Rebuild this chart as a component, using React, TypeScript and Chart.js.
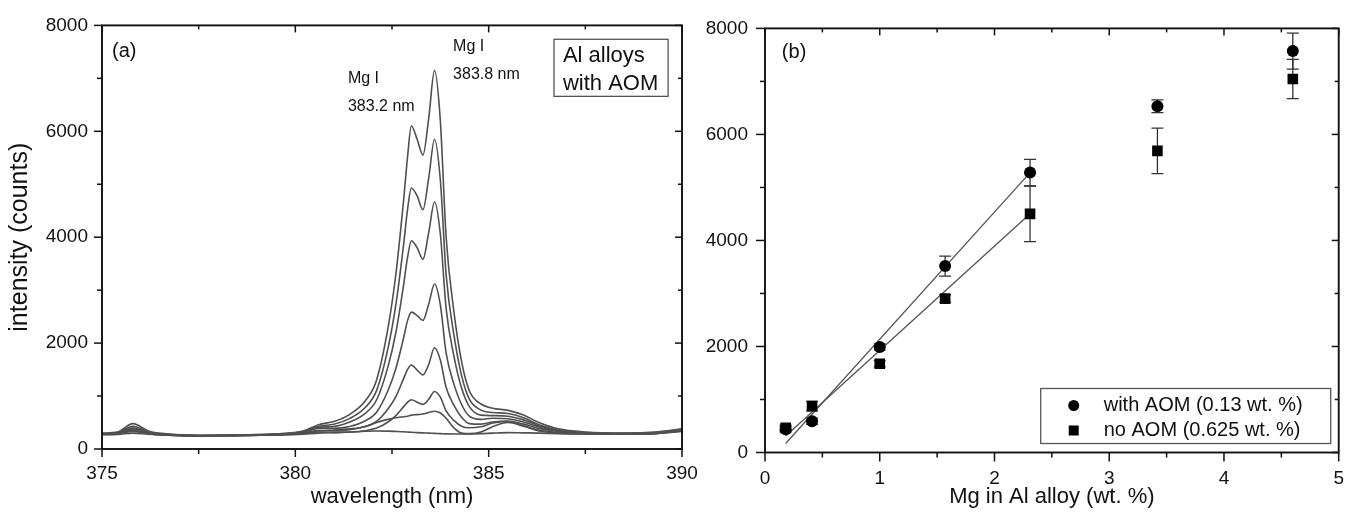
import React, { useEffect, useRef } from "react";
import { Chart, registerables } from "chart.js";

Chart.register(...registerables);

const FONT = "'Liberation Sans', Arial, Helvetica, sans-serif";
const INK = "#111111";
const LINE = "#505050";

// ---------------- panel (a): emission spectra ----------------
const wavelengths = [
  375.0, 375.4, 375.8, 376.2, 376.8, 377.5, 378.5, 379.5, 380.2, 380.6,
  381.0, 381.4, 381.8, 382.1, 382.4, 382.6, 382.8, 382.9, 383.0, 383.15,
  383.3, 383.45, 383.6, 383.75, 383.9, 384.1, 384.3, 384.5, 384.8, 385.1,
  385.5, 385.9, 386.3, 386.8, 387.5, 388.5, 389.3, 390.0,
];
const spectrum1 = [
  300, 320, 480, 340, 280, 260, 265, 285, 340, 460,
  520, 650, 900, 1300, 2300, 3300, 4700, 5500, 6100, 5850,
  5550, 6250, 7150, 6200, 4000, 2600, 1650, 1100, 850, 770,
  730, 640, 500, 380, 320, 300, 320, 380,
];
const spectrum2 = [
  290, 310, 430, 320, 275, 255, 262, 280, 330, 430,
  468, 574, 779, 1102, 1914, 2725, 3860, 4510, 4930, 4780,
  4520, 5120, 5850, 5080, 3290, 2160, 1385, 940, 735, 690,
  670, 590, 460, 360, 310, 295, 310, 370,
];
const spectrum3 = [
  285, 300, 400, 310, 270, 255, 260, 278, 320, 410,
  425, 508, 670, 925, 1565, 2200, 3100, 3610, 3934, 3800,
  3584, 4090, 4665, 4060, 2650, 1760, 1150, 800, 640, 630,
  620, 550, 440, 350, 305, 290, 305, 360,
];
const spectrum4 = [
  280, 295, 380, 300, 265, 250, 258, 275, 310, 390,
  390, 425, 530, 695, 1110, 1520, 2100, 2420, 2585, 2520,
  2430, 2740, 3116, 2720, 1810, 1230, 840, 620, 560, 580,
  570, 510, 420, 340, 300, 288, 300, 355,
];
const spectrum5 = [
  280, 290, 360, 295, 262, 250, 255, 272, 300, 350,
  340, 365, 425, 520, 760, 990, 1330, 1500, 1587, 1490,
  1400, 1600, 1911, 1680, 1160, 830, 600, 480, 470, 510,
  530, 470, 390, 330, 295, 285, 298, 350,
];
const spectrum6 = [
  275, 285, 340, 290, 260, 248, 252, 268, 290, 320,
  310, 320, 345, 395, 510, 630, 800, 880, 931, 885,
  843, 940, 1087, 980, 720, 540, 430, 400, 420, 490,
  520, 440, 360, 310, 290, 280, 295, 345,
];
const spectrum7 = [
  280, 290, 330, 290, 262, 250, 255, 270, 300, 340,
  360, 380, 420, 500, 560, 590, 610, 620, 640, 650,
  660, 690, 712, 680, 580, 400, 300, 290, 320, 420,
  500, 430, 340, 300, 285, 278, 290, 340,
];
const spectrum8 = [
  270, 275, 300, 280, 258, 250, 255, 265, 280, 300,
  310, 320, 335, 340, 338, 332, 325, 320, 315, 310,
  305, 300, 295, 290, 285, 282, 282, 285, 290, 300,
  310, 305, 300, 290, 285, 280, 290, 330,
];
const spectra = [spectrum1, spectrum2, spectrum3, spectrum4, spectrum5, spectrum6, spectrum7, spectrum8];

// ---------------- panel (b): calibration ----------------
const mgContent = [0.18, 0.41, 1.0, 1.57, 2.31, 3.42, 4.6];
const withAOM = [440, 590, 1990, 3516, 5280, 6530, 7572];
const withAOMErr = [50, 60, 60, 190, 250, 120, 340];
const noAOM = [465, 874, 1674, 2902, 4502, 5690, 7046];
const noAOMErr = [50, 90, 60, 70, 525, 430, 370];
const fitRange = [0.18, 2.31];
const fitWithAOM = [170, 5280];
const fitNoAOM = [310, 4502];

const seriesLabels = ["with AOM (0.13 wt. %)", "no AOM (0.625 wt. %)"];

// ---------------- plugins ----------------
const framePlugin = {
  id: "frame",
  afterDatasetsDraw(chart: any, _a: any, opts: any) {
    const { ctx, chartArea: a } = chart;
    const xs = chart.scales.x;
    const ys = chart.scales.y;
    ctx.save();
    ctx.strokeStyle = INK;
    ctx.lineWidth = 1.5;
    const seg = (x1: number, y1: number, x2: number, y2: number) => {
      ctx.beginPath();
      ctx.moveTo(x1, y1);
      ctx.lineTo(x2, y2);
      ctx.stroke();
    };
    const marks = (scale: any, step: number, every: number, cb: (p: number, major: boolean) => void) => {
      const n = Math.round((scale.max - scale.min) / step);
      for (let i = 0; i <= n; i++) cb(scale.getPixelForValue(scale.min + i * step), i % every === 0);
    };
    const out = opts.outMajor, outMin = opts.outMinor, inn = opts.inMajor, innMin = opts.inMinor;
    marks(xs, opts.xMinor, opts.xEvery, (p, major) => {
      seg(p, a.bottom, p, a.bottom + (major ? out : outMin));
      seg(p, a.top, p, a.top + (major ? inn : innMin));
    });
    marks(ys, opts.yMinor, opts.yEvery, (p, major) => {
      seg(a.left, p, a.left - (major ? out : outMin), p);
      seg(a.right, p, a.right - (major ? inn : innMin), p);
    });
    ctx.lineWidth = 1.9;
    ctx.strokeRect(a.left, a.top, a.right - a.left, a.bottom - a.top);
    ctx.restore();
  },
};

const notesPlugin = {
  id: "notes",
  afterDraw(chart: any, _a: any, opts: any) {
    const { ctx } = chart;
    const xs = chart.scales.x;
    const ys = chart.scales.y;
    ctx.save();
    ctx.fillStyle = INK;
    ctx.textAlign = "left";
    ctx.textBaseline = "middle";
    for (const t of opts.texts || []) {
      ctx.font = `${t.size}px ${FONT}`;
      ctx.fillText(t.text, xs.getPixelForValue(t.x), ys.getPixelForValue(t.y));
    }
    if (opts.box) {
      const b = opts.box;
      const x1 = xs.getPixelForValue(b.x1), x2 = xs.getPixelForValue(b.x2);
      const y1 = ys.getPixelForValue(b.y1), y2 = ys.getPixelForValue(b.y2);
      ctx.fillStyle = "#fff";
      ctx.fillRect(x1, y1, x2 - x1, y2 - y1);
      ctx.strokeStyle = "#555";
      ctx.lineWidth = 1.3;
      ctx.strokeRect(x1, y1, x2 - x1, y2 - y1);
      ctx.fillStyle = INK;
      for (const t of b.lines) {
        ctx.font = `${t.size}px ${FONT}`;
        ctx.fillText(t.text, xs.getPixelForValue(t.x), ys.getPixelForValue(t.y));
      }
    }
    ctx.restore();
  },
};

const errorBarPlugin = {
  id: "errorBars",
  beforeDatasetsDraw(chart: any, _a: any, opts: any) {
    const { ctx } = chart;
    const xs = chart.scales.x;
    const ys = chart.scales.y;
    ctx.save();
    ctx.strokeStyle = "#333";
    ctx.lineWidth = 1.3;
    chart.data.datasets.forEach((ds: any) => {
      if (!ds.errors) return;
      ds.data.forEach((pt: any, i: number) => {
        const e = ds.errors[i];
        const px = xs.getPixelForValue(pt.x);
        const top = ys.getPixelForValue(pt.y + e);
        const bot = ys.getPixelForValue(pt.y - e);
        const c = opts.cap;
        ctx.beginPath();
        ctx.moveTo(px, top); ctx.lineTo(px, bot);
        ctx.moveTo(px - c, top); ctx.lineTo(px + c, top);
        ctx.moveTo(px - c, bot); ctx.lineTo(px + c, bot);
        ctx.stroke();
      });
    });
    ctx.restore();
  },
};

const boxLegendPlugin = {
  id: "boxLegend",
  afterDraw(chart: any, _a: any, opts: any) {
    const { ctx, chartArea: a } = chart;
    const right = a.right - opts.right;
    const bottom = a.bottom - opts.bottom;
    const left = right - opts.width;
    const top = bottom - opts.height;
    ctx.save();
    ctx.fillStyle = "#fff";
    ctx.fillRect(left, top, opts.width, opts.height);
    ctx.strokeStyle = "#555";
    ctx.lineWidth = 1.3;
    ctx.strokeRect(left, top, opts.width, opts.height);
    ctx.font = `${opts.size}px ${FONT}`;
    ctx.textAlign = "left";
    ctx.textBaseline = "middle";
    opts.items.forEach((idx: number, row: number) => {
      const ds = chart.data.datasets[idx];
      const y = top + opts.firstRow + row * opts.rowGap;
      const mx = left + opts.markerX;
      ctx.fillStyle = "#000";
      if (ds.pointStyle === "rect") {
        const s = opts.squareSide;
        ctx.fillRect(mx - s / 2, y - s / 2, s, s);
      } else {
        ctx.beginPath();
        ctx.arc(mx, y, opts.circleR, 0, Math.PI * 2);
        ctx.fill();
      }
      ctx.fillStyle = INK;
      ctx.fillText(ds.label, left + opts.textX, y);
    });
    ctx.restore();
  },
};

const tickFont = { family: FONT, size: 19 };
const numberLabel = (v: any) => String(v);

function makeSpectraConfig(): any {
  return {
    type: "scatter",
    data: {
      datasets: spectra.map((s, k) => ({
        label: `spectrum ${k + 1}`,
        data: wavelengths.map((w, j) => ({ x: w, y: s[j] })),
        showLine: true,
        borderColor: LINE,
        borderWidth: 1.6,
        pointRadius: 0,
        cubicInterpolationMode: "monotone",
        fill: false,
      })),
    },
    options: {
      responsive: false,
      animation: false,
      events: [],
      layout: { padding: { left: 0, top: 21, right: 38, bottom: 0 } },
      plugins: {
        legend: { display: false },
        tooltip: { enabled: false },
        frame: { xMinor: 2.5, xEvery: 2, yMinor: 1000, yEvery: 2, outMajor: 8, outMinor: 5, inMajor: 7, inMinor: 4 },
        notes: {
          texts: [
            { text: "(a)", x: 375.26, y: 7514, size: 20 },
            { text: "Mg I", x: 381.36, y: 6991, size: 16 },
            { text: "383.2 nm", x: 381.36, y: 6467, size: 16 },
            { text: "Mg I", x: 384.08, y: 7594, size: 16 },
            { text: "383.8 nm", x: 384.08, y: 7071, size: 16 },
          ],
          box: {
            x1: 386.69, x2: 389.64, y1: 7738, y2: 6660,
            lines: [
              { text: "Al alloys", x: 386.92, y: 7421, size: 22 },
              { text: "with AOM", x: 386.92, y: 6897, size: 22 },
            ],
          },
        },
      },
      scales: {
        x: {
          type: "linear",
          min: 375,
          max: 390,
          grid: { display: false, drawTicks: false },
          border: { display: false },
          ticks: { stepSize: 5, font: tickFont, color: INK, padding: 13, callback: numberLabel, maxRotation: 0 },
          title: { display: true, text: "wavelength (nm)", font: { family: FONT, size: 22 }, color: INK, padding: { top: 0, bottom: 2 } },
          afterFit: (s: any) => { s.height = 63; },
        },
        y: {
          type: "linear",
          min: 0,
          max: 8000,
          grid: { display: false, drawTicks: false },
          border: { display: false },
          ticks: { stepSize: 2000, font: tickFont, color: INK, padding: 14, callback: numberLabel },
          title: { display: true, text: "intensity (counts)", font: { family: FONT, size: 25 }, color: INK, padding: { top: 5, bottom: 0 } },
          afterFit: (s: any) => { s.width = 102; },
        },
      },
    },
    plugins: [framePlugin, notesPlugin],
  };
}

function makeCalibrationConfig(): any {
  return {
    type: "scatter",
    data: {
      datasets: [
        {
          label: seriesLabels[0],
          data: mgContent.map((m, i) => ({ x: m, y: withAOM[i] })),
          errors: withAOMErr,
          pointStyle: "circle",
          pointRadius: 6,
          backgroundColor: "#000",
          borderColor: "#000",
          borderWidth: 0,
        },
        {
          label: seriesLabels[1],
          data: mgContent.map((m, i) => ({ x: m, y: noAOM[i] })),
          errors: noAOMErr,
          pointStyle: "rect",
          pointRadius: 7.5,
          backgroundColor: "#000",
          borderColor: "#000",
          borderWidth: 0,
        },
        {
          label: "fit with AOM",
          data: fitRange.map((m, i) => ({ x: m, y: fitWithAOM[i] })),
          showLine: true,
          borderColor: "#555",
          borderWidth: 1.3,
          pointRadius: 0,
        },
        {
          label: "fit no AOM",
          data: fitRange.map((m, i) => ({ x: m, y: fitNoAOM[i] })),
          showLine: true,
          borderColor: "#555",
          borderWidth: 1.3,
          pointRadius: 0,
        },
      ],
    },
    options: {
      responsive: false,
      animation: false,
      events: [],
      layout: { padding: { left: 0, top: 23, right: 14, bottom: 0 } },
      plugins: {
        legend: { display: false },
        tooltip: { enabled: false },
        frame: { xMinor: 0.5, xEvery: 2, yMinor: 1000, yEvery: 2, outMajor: 9, outMinor: 5, inMajor: 7, inMinor: 4 },
        errorBars: { cap: 6 },
        notes: { texts: [{ text: "(b)", x: 0.147, y: 7553, size: 20 }] },
        boxLegend: {
          items: [0, 1], right: 8, bottom: 9, width: 290, height: 55, size: 20,
          firstRow: 17, rowGap: 25, markerX: 33, textX: 63, circleR: 5.5, squareSide: 10,
        },
      },
      scales: {
        x: {
          type: "linear",
          min: 0,
          max: 5,
          grid: { display: false, drawTicks: false },
          border: { display: false },
          ticks: { stepSize: 1, font: tickFont, color: INK, padding: 15, callback: numberLabel, maxRotation: 0 },
          title: { display: true, text: "Mg in Al alloy (wt. %)", font: { family: FONT, size: 22 }, color: INK, padding: { top: 0, bottom: 2 } },
          afterFit: (s: any) => { s.height = 59.5; },
        },
        y: {
          type: "linear",
          min: 0,
          max: 8000,
          grid: { display: false, drawTicks: false },
          border: { display: false },
          ticks: { stepSize: 2000, font: tickFont, color: INK, padding: 17, callback: numberLabel },
          afterFit: (s: any) => { s.width = 85; },
        },
      },
    },
    plugins: [framePlugin, errorBarPlugin, notesPlugin, boxLegendPlugin],
  };
}

export default function App() {
  const leftRef = useRef<HTMLCanvasElement>(null);
  const rightRef = useRef<HTMLCanvasElement>(null);

  useEffect(() => {
    document.body.style.margin = "0";
    const a = new Chart(leftRef.current as HTMLCanvasElement, makeSpectraConfig());
    const b = new Chart(rightRef.current as HTMLCanvasElement, makeCalibrationConfig());
    return () => {
      a.destroy();
      b.destroy();
    };
  }, []);

  return (
    <div style={{ position: "relative", width: 1359, height: 512, background: "#fff", overflow: "hidden" }}>
      <canvas ref={leftRef} width={720} height={512} style={{ position: "absolute", left: 0, top: 0, width: 720, height: 512 }} />
      <canvas ref={rightRef} width={679} height={512} style={{ position: "absolute", left: 680, top: 0, width: 679, height: 512 }} />
    </div>
  );
}
